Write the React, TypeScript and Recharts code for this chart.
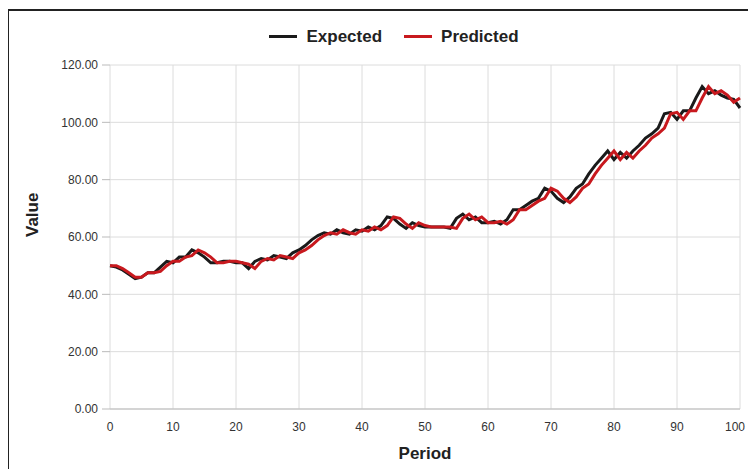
import React from "react";
import {
  LineChart,
  Line,
  XAxis,
  YAxis,
  CartesianGrid,
} from "recharts";

const periods = Array.from({ length: 101 }, (_, i) => i);

const expected = [
  50, 49.5, 48.5, 47, 45.5, 46, 47.5, 47.5, 49.5, 51.5,
  51, 53, 53, 55.5, 54.5, 53, 51, 51, 51.5, 51.5,
  51, 51, 49, 51.5, 52.5, 52, 53.5, 53, 52.5, 54.5,
  55.5, 57, 59, 60.5, 61.5, 61, 62.5, 61.5, 61, 62.5,
  62, 63.5, 62.5, 64, 67, 66.5, 64.5, 63, 65, 64,
  63.5, 63.5, 63.5, 63.5, 63, 66.5, 68, 66, 67, 65,
  65, 65.5, 64.5, 66, 69.5, 69.5, 71, 72.5, 73.5, 77,
  76, 73.5, 72, 74, 77, 78.5, 82, 85, 87.5, 90,
  87, 89.5, 87.5, 90, 92, 94.5, 96, 98, 103, 103.5,
  101, 104, 104, 108.5, 112.5, 110, 111, 109.5, 108.5, 108,
  105,
];

const predicted = [
  50, 50, 49, 47.5, 46, 46, 47.5, 47.5, 48, 50,
  51.5, 51.5, 53, 53.5, 55.5, 54.5, 53, 51, 51, 51.5,
  51.5, 51, 50.5, 49, 51.5, 52.5, 52, 53.5, 53, 52.5,
  54.5, 55.5, 57, 59, 60.5, 61.5, 61, 62.5, 61.5, 61,
  62.5, 62, 63.5, 62.5, 64, 67, 66.5, 64.5, 63, 65,
  64, 63.5, 63.5, 63.5, 63.5, 63, 66.5, 68, 66, 67,
  65, 65, 65.5, 64.5, 66, 69.5, 69.5, 71, 72.5, 73.5,
  77, 76, 73.5, 72, 74, 77, 78.5, 82, 85, 87.5,
  90, 87, 89.5, 87.5, 90, 92, 94.5, 96, 98, 103,
  103.5, 101, 104, 104, 108.5, 112.5, 110, 111, 109.5, 107,
  108.5,
];

const xTicks = [0, 10, 20, 30, 40, 50, 60, 70, 80, 90, 100];
const yTicks = [0, 20, 40, 60, 80, 100, 120];

const data = periods.map((p, i) => ({
  period: p,
  expected: expected[i],
  predicted: predicted[i],
}));

const font = "'Liberation Sans', Arial, sans-serif";

// last label sits a bit inside the edge, like the original
function XTick(props: any) {
  const { x, y, payload } = props;
  const last = payload.value === 100;
  return (
    <text
      x={last ? x - 5 : x}
      y={y}
      dy={12}
      textAnchor="middle"
      fill="#333"
      fontSize={12}
    >
      {payload.value}
    </text>
  );
}

function LegendBox() {
  const item = (color: string, text: string) => (
    <span style={{ display: "inline-flex", alignItems: "center", margin: "0 11px" }}>
      <span
        style={{
          display: "inline-block",
          width: 28,
          height: 3,
          background: color,
          marginRight: 9,
        }}
      />
      {text}
    </span>
  );
  return (
    <div
      style={{
        position: "absolute",
        top: 12,
        left: 0,
        width: 770,
        textAlign: "center",
        fontFamily: font,
        fontWeight: "bold",
        fontSize: 17,
        color: "#222",
      }}
    >
      {item("#1a1a1a", "Expected")}
      {item("#c8191e", "Predicted")}
    </div>
  );
}

export default function App() {
  return (
    <div
      style={{
        position: "relative",
        width: 749,
        height: 458,
        overflow: "hidden",
        marginTop: 1,
        marginLeft: -1,
        borderLeft: "2px solid #222",
        borderTop: "2px solid #222",
        fontFamily: font,
      }}
    >
      <LegendBox />
      <LineChart
        width={760}
        height={470}
        data={data}
        margin={{ top: 54, right: 29, bottom: 12, left: 0 }}
      >
        <CartesianGrid stroke="#dcdcdc" />
        <XAxis
          dataKey="period"
          type="number"
          domain={[0, 100]}
          ticks={xTicks}
          height={60}
          stroke="#bbb"
          tickLine={false}
          tickMargin={4}
          tick={<XTick />}
          label={{
            value: "Period",
            position: "insideBottom",
            offset: 10,
            fill: "#222",
            fontSize: 17,
            fontWeight: "bold",
          }}
        />
        <YAxis
          type="number"
          domain={[0, 120]}
          ticks={yTicks}
          width={101}
          axisLine={false}
          tickLine={{ stroke: "#bbb" }}
          tickSize={8}
          tickMargin={4}
          tick={{ fill: "#333", fontSize: 12 }}
          tickFormatter={(v: number) => v.toFixed(2)}
          label={{
            value: "Value",
            angle: -90,
            position: "insideLeft",
            offset: 23,
            fill: "#222",
            fontSize: 17,
            fontWeight: "bold",
          }}
        />
        <Line
          dataKey="expected"
          stroke="#1a1a1a"
          strokeWidth={3}
          dot={false}
          isAnimationActive={false}
        />
        <Line
          dataKey="predicted"
          stroke="#c8191e"
          strokeWidth={3}
          dot={false}
          isAnimationActive={false}
        />
      </LineChart>
    </div>
  );
}
